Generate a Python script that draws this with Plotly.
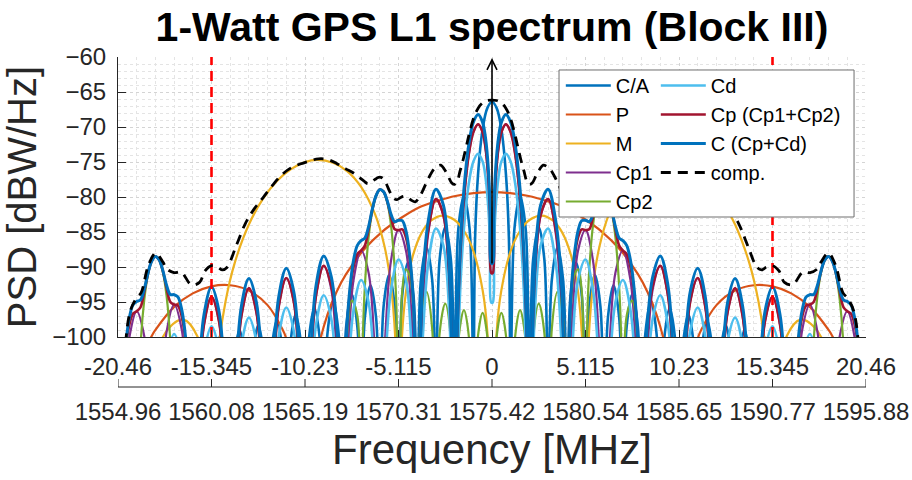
import plotly.graph_objects as go

FONT = "Liberation Sans, Arial, Helvetica, sans-serif"
AX = "#262626"

# ---------------- axes ----------------
TICK_F = [-20.46, -15.345, -10.23, -5.115, 0, 5.115, 10.23, 15.345, 20.46]
TICK_OFFSET_TEXT = ["-20.46", "-15.345", "-10.23", "-5.115", "0",
                    "5.115", "10.23", "15.345", "20.46"]
TICK_RF_TEXT = ["1554.96", "1560.08", "1565.19", "1570.31", "1575.42",
                "1580.54", "1585.65", "1590.77", "1595.88"]
Y_TICKS = [-100, -95, -90, -85, -80, -75, -70, -65, -60]
BAND_EDGES = [-15.345, 15.345]
CARRIER_F = 0.0
CARRIER_DB = [-89.5, -60.4]

# ---------------- spectra (positive offsets, dBW/Hz; spectra are symmetric) ----------------
CA_F = [0.0, 0.256, 0.512, 0.767, 0.921, 1.023, 1.228, 1.535, 1.841, 2.046, 2.251, 2.558, 2.864,
        3.069, 3.274, 3.581, 3.888, 4.092, 4.297, 4.604, 4.910, 5.115, 5.320, 5.627, 5.933, 6.138,
        6.343, 6.650, 6.956, 7.161, 7.366, 7.673, 7.979, 8.184, 8.389, 8.696, 9.002, 9.207, 9.412,
        9.719, 10.025, 10.230, 10.435, 10.742, 11.048, 11.253, 11.458, 11.765, 12.071, 12.276,
        12.481, 12.788, 13.094, 13.299, 13.504, 13.811, 14.117, 14.322, 14.527, 14.834, 15.140,
        15.345, 20.46]
CA_DB = [-66.4, -67.3, -70.3, -76.9, -85.6, -106, -84.5, -79.9, -84.5, -106, -88.9, -84.3, -88.9,
         -107, -91.8, -87.2, -91.8, -108, -94.0, -89.4, -94.0, -110, -95.7, -91.1, -95.7, -114,
         -97.2, -92.6, -97.2, -114, -98.5, -93.9, -98.5, -116, -99.5, -94.9, -99.5, -116, -100.5,
         -95.9, -100.5, -118, -101.4, -96.8, -101.4, -118, -102.2, -97.6, -102.2, -120,
         -102.9, -98.3, -102.9, -120, -103.6, -99.0, -103.6, -122, -104.2, -99.6, -104.2,
         -122, -135]

P_F = [0.0, 1.0, 2.0, 3.0, 4.0, 5.0, 6.0, 7.0, 8.0, 8.5, 9.0, 9.5, 10.23, 11.25, 11.5, 12.28,
       13.30, 14.32, 15.345, 16.37, 17.39, 18.41, 18.6, 19.44, 20.46]
P_DB = [-79.3, -79.44, -79.85, -80.57, -81.48, -83.03, -84.93, -87.49, -91.09, -93.53, -96.81,
        -101.68, -120, -100.27, -98.7, -95.44, -93.36, -92.60, -92.76, -93.76, -95.69, -98.97,
        -99.77, -105.0, -125]

M_F = [0.0, 0.256, 0.512, 1.023, 1.535, 2.046, 2.711, 3.325, 3.836, 4.348, 4.706, 4.962, 5.115,
       5.268, 5.524, 5.882, 6.394, 7.161, 7.928, 8.696, 9.565, 10.23, 10.997, 11.765, 12.532,
       13.299, 14.066, 14.578, 14.936, 15.345, 15.601, 16.112, 16.880, 17.647, 18.414, 19.437,
       20.46]
M_DB = [-125, -99.25, -93.32, -87.68, -84.82, -83.28, -82.65, -83.34, -85.05, -88.55, -93.50,
        -101.71, -125, -101.42, -92.70, -87.04, -82.49, -78.54, -76.29, -75.10, -74.70, -75.02,
        -76.01, -77.72, -80.27, -83.92, -89.33, -94.92, -101.34, -125, -107.5, -99.93, -97.50,
        -98.63, -102.37, -113, -130]

# BOC(1,1) components share one frequency grid
BOC_F = [0.041, 0.102, 0.205, 0.358, 0.512, 0.757, 1.023, 1.279, 1.535, 1.739, 1.893, 2.046,
         2.353, 2.660, 3.069, 3.478, 3.785, 4.092,
         4.399, 4.706, 5.115, 5.524, 5.831, 6.138,
         6.445, 6.752, 7.161, 7.570, 7.877, 8.184,
         8.491, 8.798, 9.207, 9.616, 9.923, 10.230,
         10.537, 10.844, 11.253, 11.662, 11.969, 12.276,
         12.583, 12.890, 13.299, 13.708, 14.015, 14.322,
         14.629, 14.936, 15.345, 15.754, 16.061, 16.368,
         16.675, 16.982, 17.391, 17.800, 18.107, 18.414,
         18.721, 19.028, 19.437, 19.846, 20.153, 20.460]
CP1_DB = [-90.86, -82.97, -77.16, -72.90, -70.74, -69.61, -70.74, -74.06, -80.28, -89.07, -101.35, -115,
          -91.69, -82.72, -80.28, -85.05, -95.82, -115,
          -97.13, -87.68, -84.72, -89.07, -99.58, -120,
          -100.45, -90.81, -87.64, -91.80, -102.19, -120,
          -102.84, -93.11, -89.82, -93.88, -104.2, -125,
          -104.7, -94.93, -91.57, -95.56, -105.8, -125,
          -106.3, -96.43, -93.02, -96.96, -107.2, -125,
          -107.6, -97.71, -94.26, -98.17, -108.4, -125,
          -108.7, -98.82, -95.35, -99.23, -109.4, -125,
          -109.7, -99.81, -96.32, -100.18, -110.35, -130]
CD_DB = [-95.07, -87.18, -81.37, -77.11, -74.95, -73.82, -74.95, -78.27, -84.49, -93.28, -105.56, -120,
         -95.90, -86.93, -84.49, -89.26, -100.03, -120,
         -101.34, -91.89, -88.93, -93.28, -103.79, -125,
         -104.66, -95.02, -91.85, -96.01, -106.4, -125,
         -107.05, -97.32, -94.03, -98.09, -108.4, -125,
         -108.9, -99.14, -95.78, -99.77, -110.0, -130,
         -110.5, -100.64, -97.23, -101.17, -111.4, -130,
         -111.8, -101.92, -98.47, -102.38, -112.6, -130,
         -112.9, -103.03, -99.56, -103.44, -113.6, -130,
         -113.9, -104.02, -100.53, -104.39, -114.6, -135]

CP2_F = [0.0, 0.205, 0.512, 0.818, 1.023, 1.228, 1.535, 1.841, 2.046, 2.251, 2.558, 2.864, 3.069,
         3.274, 3.581, 3.887, 4.092, 4.297, 4.501, 4.706, 4.910, 5.115, 5.217, 5.320, 5.524, 5.729,
         5.933, 6.138, 6.343, 6.547, 6.752, 6.956, 7.059, 7.161, 7.366, 7.673, 7.979, 8.184,
         12.276, 17.391, 17.596, 17.800, 18.005, 18.209, 18.414, 18.619, 18.823, 19.028, 19.232,
         19.437, 20.46]
CP2_DB = [-125, -101.21, -96.55, -101.09, -125, -100.92, -96.14, -100.55, -125, -100.18, -95.22,
          -99.43, -125, -98.77, -93.54, -97.43, -125, -96.18, -91.24, -90.34, -93.44, -125, -96.9,
          -90.45, -84.04, -80.79, -79.24, -78.94, -79.82, -81.95, -85.78, -92.78, -99.5, -125,
          -96.97, -94.80, -101.56, -125, -140, -125, -100.84, -94.20, -90.74, -88.98, -88.49,
          -89.17, -91.13, -94.78, -101.61, -125, -140]

# TMBOC pilot / composite L1C share a finer grid where the BOC(6,1) part is visible
L1C_F = [0.041, 0.102, 0.205, 0.358, 0.512, 0.757, 1.023, 1.279, 1.535, 1.739, 1.893, 2.046,
         2.353, 2.660, 3.069, 3.478, 3.785, 4.092, 4.297, 4.501, 4.706, 4.910, 5.115, 5.320,
         5.524, 5.729, 5.933, 6.138, 6.343, 6.547, 6.752, 6.956, 7.161, 7.366, 7.570, 7.775,
         7.979, 8.184, 8.491, 8.798, 9.207, 9.616, 9.923, 10.230, 10.537, 10.844, 11.253,
         11.662, 11.969, 12.276, 12.583, 12.890, 13.299, 13.708, 14.015, 14.322, 14.629,
         14.936, 15.345, 15.754, 16.061, 16.368, 16.675, 16.982, 17.186, 17.391, 17.596,
         17.800, 18.005, 18.209, 18.414, 18.619, 18.823, 19.028, 19.232, 19.437, 19.642,
         19.846, 20.051, 20.255, 20.460]
C_DB = [-89.46, -81.57, -75.76, -71.50, -69.34, -68.21, -69.34, -72.66, -78.88, -87.28, -98.21, -115,
        -89.47, -81.16, -78.88, -83.26, -91.64, -115, -95.21, -88.34, -84.84, -83.38, -83.32, -83.54,
        -82.48, -80.56, -79.23, -78.94, -79.81, -81.72, -84.22, -85.87, -86.24, -86.91, -88.96, -93.09,
        -100.59, -120, -98.66, -91.34, -88.42, -92.48, -102.8, -125, -103.3, -93.53, -90.17,
        -94.16, -104.4, -125, -104.9, -95.03, -91.62, -95.56, -105.8, -125, -106.2,
        -96.31, -92.86, -96.77, -107.0, -125, -102.7, -95.98, -94.27, -93.95, -93.93,
        -92.64, -90.51, -88.97, -88.49, -89.17, -90.90, -93.22, -94.70, -94.92, -95.43,
        -97.34, -101.4, -108.7, -130]
CP_DB = [-90.86, -82.97, -77.16, -72.90, -70.74, -69.61, -70.74, -74.06, -80.28, -88.54, -99.05, -115,
         -90.59, -82.50, -80.28, -84.52, -92.32, -115, -95.44, -88.94, -85.80, -84.61, -84.72, -84.61,
         -82.86, -80.62, -79.23, -78.94, -79.82, -81.78, -84.60, -86.94, -87.64, -88.14, -89.92, -93.69,
         -100.82, -120, -99.34, -92.61, -89.82, -93.88, -104.2, -125, -104.7, -94.93, -91.57,
         -95.56, -105.8, -125, -106.3, -96.43, -93.02, -96.96, -107.2, -125, -107.6,
         -97.71, -94.26, -98.17, -108.4, -125, -103.15, -96.94, -95.50, -95.35, -95.00,
         -93.02, -90.57, -88.97, -88.49, -89.17, -90.96, -93.60, -95.77, -96.32, -96.66,
         -98.30, -101.9, -110, -130]

COMP_F = [0.0, 0.25, 0.5, 0.75, 1.0, 1.25, 1.4, 1.6, 1.75, 1.9, 2.046, 2.2, 2.4, 2.6, 2.8, 3.0,
          3.2, 3.4, 3.6, 3.8, 4.0, 4.2, 4.4, 4.6, 4.8, 5.0, 5.2, 5.4, 5.6, 5.8, 6.0, 6.2, 6.4,
          6.6, 6.8, 7.0, 7.3, 7.6, 8.0, 8.5, 9.0, 9.5, 10.0, 10.5, 11.0, 11.5, 12.0, 12.5, 13.0,
          13.5, 14.0, 14.5, 14.75, 15.0, 15.345, 15.7, 16.0, 16.45, 17.0, 17.4, 17.8, 18.0,
          18.4, 18.8, 19.2, 19.44, 19.8, 20.2, 20.46]
COMP_DB = [-66.16, -66.21, -66.53, -67.27, -68.69, -71.02, -72.70, -74.89, -76.3, -77.73, -78.2,
           -78.0, -77.0, -76.06, -75.45, -75.63, -76.09, -76.96, -78.0, -79.15, -80.11, -80.68,
           -80.48, -80.04, -79.89, -80.07, -80.38, -80.16, -79.19, -78.04, -77.28, -77.18,
           -77.48, -77.88, -78.09, -77.73, -77.12, -76.54, -75.98, -75.2, -74.63, -74.54,
           -74.87, -75.29, -75.84, -76.82, -78.31, -80.0, -81.66, -83.82, -87.01, -90.06,
           -90.4, -90.04, -89.8, -90.56, -92.2, -92.53, -90.73, -90.8, -90.25, -89.3, -88.0,
           -89.79, -93.7, -94.4, -96.4, -107, -130]


def two_sided(f_pos, v_pos):
    """Mirror a one-sided spectrum about the carrier."""
    if f_pos[0] == 0:
        return [-f for f in f_pos[:0:-1]] + list(f_pos), list(v_pos[:0:-1]) + list(v_pos)
    return [-f for f in f_pos[::-1]] + list(f_pos), list(v_pos[::-1]) + list(v_pos)


# name, freq, level, colour, width, dash, legend column
SERIES = [
    ("C/A", CA_F, CA_DB, "#0072BD", 2.6, "solid", "legend"),
    ("P", P_F, P_DB, "#D95319", 2.2, "solid", "legend"),
    ("M", M_F, M_DB, "#EDB120", 2.2, "solid", "legend"),
    ("Cp1", BOC_F, CP1_DB, "#7E2F8E", 2.2, "solid", "legend"),
    ("Cp2", CP2_F, CP2_DB, "#77AC30", 2.2, "solid", "legend"),
    ("Cd", BOC_F, CD_DB, "#4DBEEE", 2.6, "solid", "legend2"),
    ("Cp (Cp1+Cp2)", L1C_F, CP_DB, "#A2142F", 2.6, "solid", "legend2"),
    ("C (Cp+Cd)", L1C_F, C_DB, "#0072BD", 3.0, "solid", "legend2"),
    ("comp.", COMP_F, COMP_DB, "#000000", 2.8, "10px,7px", "legend2"),
]

fig = go.Figure()

for name, f_pos, v_pos, color, width, dash, leg in SERIES:
    f, v = two_sided(f_pos, v_pos)
    if name == "comp.":
        # band-edge markers and the carrier line sit under the composite curve
        for xe in BAND_EDGES:
            fig.add_trace(go.Scatter(x=[xe, xe], y=[Y_TICKS[0], Y_TICKS[-1]], mode="lines",
                                     line=dict(color="#FF0000", width=2.6, dash="10px,6px"),
                                     showlegend=False, hoverinfo="skip"))
        fig.add_trace(go.Scatter(x=[CARRIER_F, CARRIER_F], y=CARRIER_DB, mode="lines",
                                 line=dict(color="#000000", width=1.6),
                                 showlegend=False, hoverinfo="skip"))
    fig.add_trace(go.Scatter(
        x=f, y=v, mode="lines", name=name, legend=leg,
        line=dict(color=color, width=width, dash=dash, shape="spline", smoothing=1.0,
                  simplify=False),
    ))

# second frequency scale (RF frequency) shares the offset axis positions
fig.add_trace(go.Scatter(x=[TICK_F[0], TICK_F[-1]], y=[Y_TICKS[0], Y_TICKS[0]], xaxis="x2",
                         mode="lines", line=dict(width=0, color="rgba(0,0,0,0)"),
                         showlegend=False, hoverinfo="skip"))

# RF scale baseline with upward ticks
RF_AXIS_Y = 0.009
RF_TICK_H = 8 / 333
fig.add_shape(type="line", xref="x", yref="paper", x0=TICK_F[0], x1=TICK_F[-1],
              y0=RF_AXIS_Y, y1=RF_AXIS_Y, line=dict(color=AX, width=1))
for xt in TICK_F:
    fig.add_shape(type="line", xref="x", yref="paper", x0=xt, x1=xt,
                  y0=RF_AXIS_Y, y1=RF_AXIS_Y + RF_TICK_H, line=dict(color=AX, width=1))

# arrow head on the carrier line
fig.add_shape(type="path", xref="x", yref="y", xsizemode="pixel", ysizemode="pixel",
              xanchor=CARRIER_F, yanchor=CARRIER_DB[1],
              path="M-5,-10 L0,0 L5,-10", line=dict(color="#000000", width=1.6))

# legend frame spanning both legend columns
fig.add_shape(type="rect", xref="paper", yref="paper", x0=0.5896, x1=0.9840, y0=0.5195, y1=0.961,
              fillcolor="white", line=dict(color="#6e6e6e", width=1), layer="above")

grid = dict(showgrid=True, gridcolor="#d4d4d4", griddash="dot", gridwidth=1)
minor_grid = dict(showgrid=True, gridcolor="#e4e4e4", griddash="dot", gridwidth=1)

fig.update_layout(
    width=912, height=480,
    margin=dict(l=118, r=46, t=57, b=90, autoexpand=False),
    paper_bgcolor="white", plot_bgcolor="white",
    font=dict(family=FONT, color=AX),
    title=dict(text="<b>1-Watt GPS L1 spectrum (Block III)</b>", x=0.5, xref="paper",
               y=1 - 27 / 480, yref="container", yanchor="middle", xanchor="center",
               font=dict(size=41, color="#000000", family=FONT)),
    xaxis=dict(range=[-20.46, 20.46], tickmode="array", tickvals=TICK_F, ticktext=TICK_OFFSET_TEXT,
               ticks="inside", ticklen=7, tickcolor=AX, showline=True, linecolor=AX, linewidth=1,
               tickfont=dict(size=24, color=AX), ticklabelstandoff=8, zeroline=False,
               automargin=False,
               anchor="y", minor=dict(dtick=1.023, tick0=0, **minor_grid), **grid),
    xaxis2=dict(range=[-20.46, 20.46], overlaying="x", anchor="free", position=RF_AXIS_Y,
                side="bottom", tickmode="array", tickvals=TICK_F, ticktext=TICK_RF_TEXT,
                ticks="", showline=False,
                tickfont=dict(size=24, color=AX), ticklabelstandoff=8, showgrid=False,
                zeroline=False, automargin=False,
                title=dict(text="Frequency [MHz]", font=dict(size=42, color=AX), standoff=10)),
    yaxis=dict(range=[-100, -60], domain=[0.159, 1], tickmode="array", tickvals=Y_TICKS,
               ticks="inside", ticklen=8, tickcolor=AX, showline=True, linecolor=AX, linewidth=1,
               tickfont=dict(size=24, color=AX), ticklabelstandoff=6, zeroline=False,
               automargin=False, minor=dict(dtick=1, **minor_grid),
               title=dict(text="PSD [dBW/Hz]", font=dict(size=40, color=AX), standoff=8), **grid),
    legend=dict(x=0.592, y=0.973, xanchor="left", yanchor="top", bgcolor="rgba(0,0,0,0)",
                borderwidth=0, font=dict(size=20, color="#000000", family=FONT), itemwidth=45,
                tracegroupgap=0),
    legend2=dict(x=0.719, y=0.973, xanchor="left", yanchor="top", bgcolor="rgba(0,0,0,0)",
                 borderwidth=0, font=dict(size=20, color="#000000", family=FONT), itemwidth=45,
                 tracegroupgap=0),
    showlegend=True,
)

fig.write_html("out.html")
